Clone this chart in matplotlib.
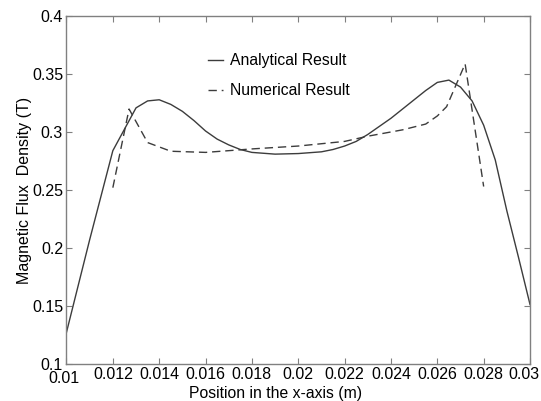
#!/usr/bin/env python3
"""Analytical vs numerical magnetic flux density along the x-axis."""

import matplotlib

matplotlib.use("Agg")
import matplotlib.pyplot as plt
import matplotlib.transforms as mtransforms

# analytical result
analytical_x = [0.0100, 0.0110, 0.0120, 0.0130, 0.0135, 0.0140, 0.0145, 0.0150,
                0.0155, 0.0160, 0.0165, 0.0170, 0.0175, 0.0180, 0.0190, 0.0200,
                0.0210, 0.0215, 0.0220, 0.0225, 0.0230, 0.0235, 0.0240, 0.0245,
                0.0250, 0.0255, 0.0260, 0.0265, 0.0270, 0.0275, 0.0280, 0.0285,
                0.0290, 0.0295, 0.0300]
analytical_b = [0.127, 0.207, 0.284, 0.321, 0.327, 0.328, 0.324, 0.318,
                0.310, 0.301, 0.294, 0.289, 0.285, 0.2825, 0.281, 0.2815,
                0.283, 0.285, 0.288, 0.292, 0.298, 0.305, 0.312, 0.320,
                0.328, 0.336, 0.343, 0.345, 0.339, 0.327, 0.306, 0.276,
                0.232, 0.192, 0.151]

# numerical result
numerical_x = [0.0120, 0.0127, 0.0135, 0.0145, 0.0160, 0.0180, 0.0200, 0.0220,
               0.0230, 0.0245, 0.0255, 0.0260, 0.0264, 0.0272, 0.0280]
numerical_b = [0.252, 0.320, 0.291, 0.2835, 0.2825, 0.2855, 0.288, 0.292,
               0.2965, 0.302, 0.307, 0.314, 0.322, 0.359, 0.253]

x_ticks = [0.01, 0.012, 0.014, 0.016, 0.018, 0.02, 0.022, 0.024, 0.026, 0.028, 0.03]
x_tick_labels = ["0.01", "0.012", "0.014", "0.016", "0.018", "0.02",
                 "0.022", "0.024", "0.026", "0.028", "0.03"]
y_ticks = [0.1, 0.15, 0.2, 0.25, 0.3, 0.35, 0.4]
y_tick_labels = ["0.1", "0.15", "0.2", "0.25", "0.3", "0.35", "0.4"]

plt.rcParams["font.family"] = ["Liberation Sans", "DejaVu Sans"]

fig = plt.figure(figsize=(5.41, 4.01), dpi=100)
ax = fig.add_axes([0.1229, 0.0935, 0.8568, 0.8654])

line_color = "#3c3c3c"
ax.plot(analytical_x, analytical_b, color=line_color, linewidth=1.0,
        label="Analytical Result")
ax.plot(numerical_x, numerical_b, color=line_color, linewidth=1.0,
        dashes=(6, 3.5), label="Numerical Result")

ax.set_xlim(0.01, 0.03)
ax.set_ylim(0.1, 0.4)
ax.set_xticks(x_ticks)
ax.set_xticklabels(x_tick_labels)
ax.set_yticks(y_ticks)
ax.set_yticklabels(y_tick_labels)

ax.tick_params(direction="in", top=True, right=True, length=4, width=0.8,
               color="#808080", labelsize=11.5, pad=2.5)
for spine in ax.spines.values():
    spine.set_color("#808080")
    spine.set_linewidth(1.0)

# the first x label sits a little lower and left, clear of "0.1"
first = ax.get_xticklabels()[0]
first.set_transform(first.get_transform()
                    + mtransforms.ScaledTranslation(-3 / 100, -4 / 100, fig.dpi_scale_trans))
last = ax.get_xticklabels()[-1]
last.set_transform(last.get_transform()
                   + mtransforms.ScaledTranslation(-6 / 100, 0, fig.dpi_scale_trans))

ax.set_xlabel("Position in the x-axis (m)", fontsize=11.3)
ax.xaxis.set_label_coords(0.45, -0.065)
ax.set_ylabel("Magnetic Flux  Density (T)", fontsize=11.5)
ax.yaxis.set_label_coords(-0.075, 0.5)

ax.legend(loc="upper left", bbox_to_anchor=(0.275, 0.935), frameon=False,
          fontsize=11.3, handlelength=0.95, handletextpad=0.45, labelspacing=0.95)

fig.savefig("out.png", dpi=100)
